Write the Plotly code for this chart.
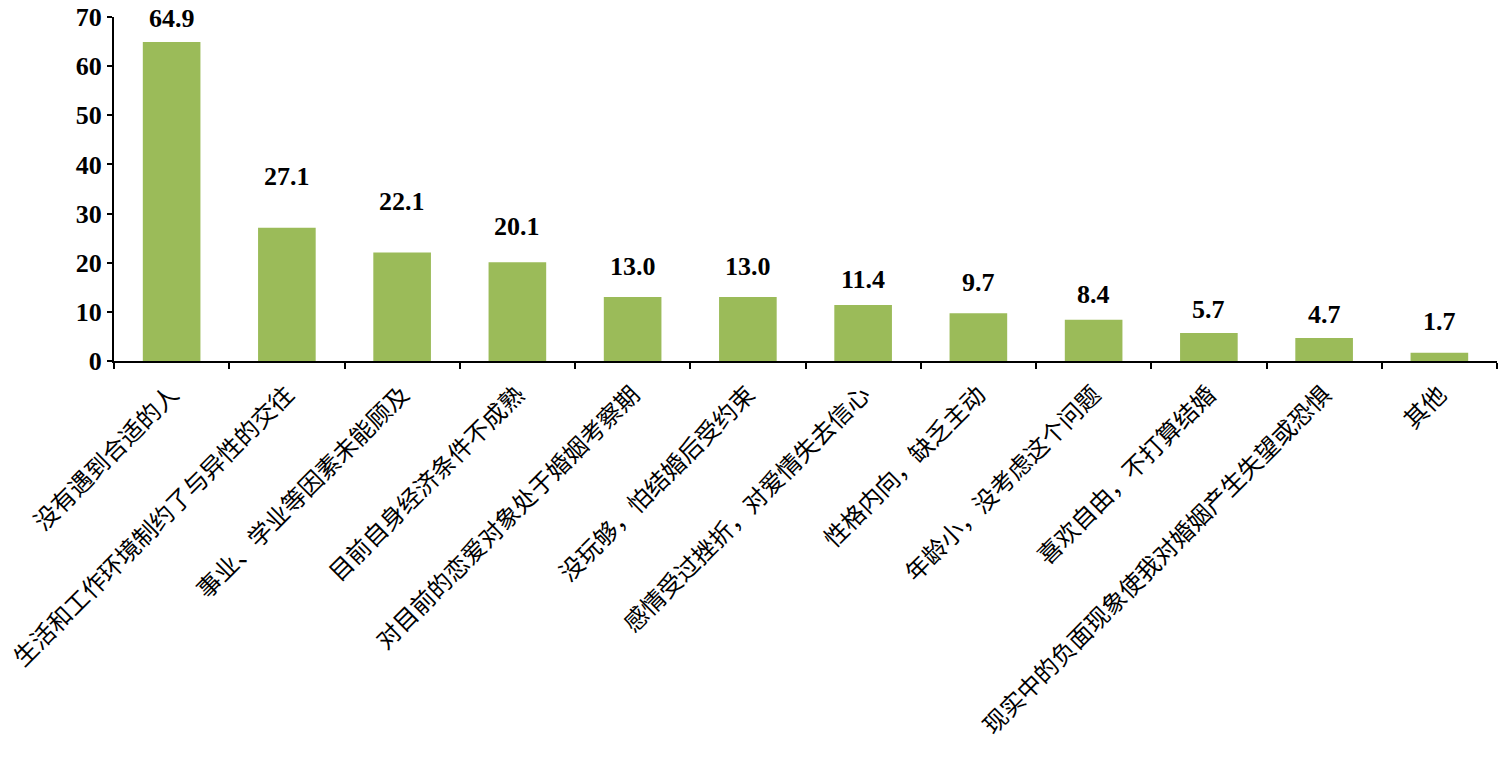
import plotly.graph_objects as go

# Reasons for not being married (percent)
categories = [
    "没有遇到合适的人",
    "生活和工作环境制约了与异性的交往",
    "事业、学业等因素未能顾及",
    "目前自身经济条件不成熟",
    "对目前的恋爱对象处于婚姻考察期",
    "没玩够，怕结婚后受约束",
    "感情受过挫折，对爱情失去信心",
    "性格内向，缺乏主动",
    "年龄小，没考虑这个问题",
    "喜欢自由，不打算结婚",
    "现实中的负面现象使我对婚姻产生失望或恐惧",
    "其他",
]
values = [64.9, 27.1, 22.1, 20.1, 13.0, 13.0, 11.4, 9.7, 8.4, 5.7, 4.7, 1.7]
value_labels = ["64.9", "27.1", "22.1", "20.1", "13.0", "13.0", "11.4", "9.7", "8.4", "5.7", "4.7", "1.7"]

# vertical pixel offset of each value label above its bar
label_offsets = [24, 51, 51, 36, 31, 31, 25, 31, 25, 23, 23, 31]

serif_bold = dict(family="Liberation Serif, Times New Roman, serif", size=26, color="black", weight="bold")
cjk_font = dict(family="Noto Sans CJK SC, sans-serif", size=24, color="black")

fig = go.Figure()
fig.add_trace(go.Bar(
    x=categories,
    y=values,
    marker=dict(color="#9BBB59", line=dict(width=0)),
    hoverinfo="x+y",
))

for cat, val, txt, off in zip(categories, values, value_labels, label_offsets):
    fig.add_annotation(
        x=cat, y=val, text=txt, showarrow=False,
        xref="x", yref="y", yanchor="middle", yshift=off,
        font=serif_bold,
    )

fig.update_layout(
    width=1504, height=758,
    margin=dict(l=114, r=7, t=17, b=397, autoexpand=False),
    paper_bgcolor="white", plot_bgcolor="white",
    bargap=0.5,
    showlegend=False,
)
fig.update_xaxes(
    type="category", automargin=False,
    showline=True, linecolor="black", linewidth=2,
    ticks="outside", ticklen=6, tickwidth=2, tickcolor="black",
    tickson="boundaries",
    tickangle=-45,
    ticklabelstandoff=8,
    tickfont=cjk_font,
    showgrid=False,
)
fig.update_yaxes(
    range=[0, 70], dtick=10, automargin=False,
    showline=True, linecolor="black", linewidth=2,
    ticks="outside", ticklen=5, tickwidth=2, tickcolor="black",
    tickfont=serif_bold,
    showgrid=False, zeroline=False,
)

fig.write_html("out.html")
